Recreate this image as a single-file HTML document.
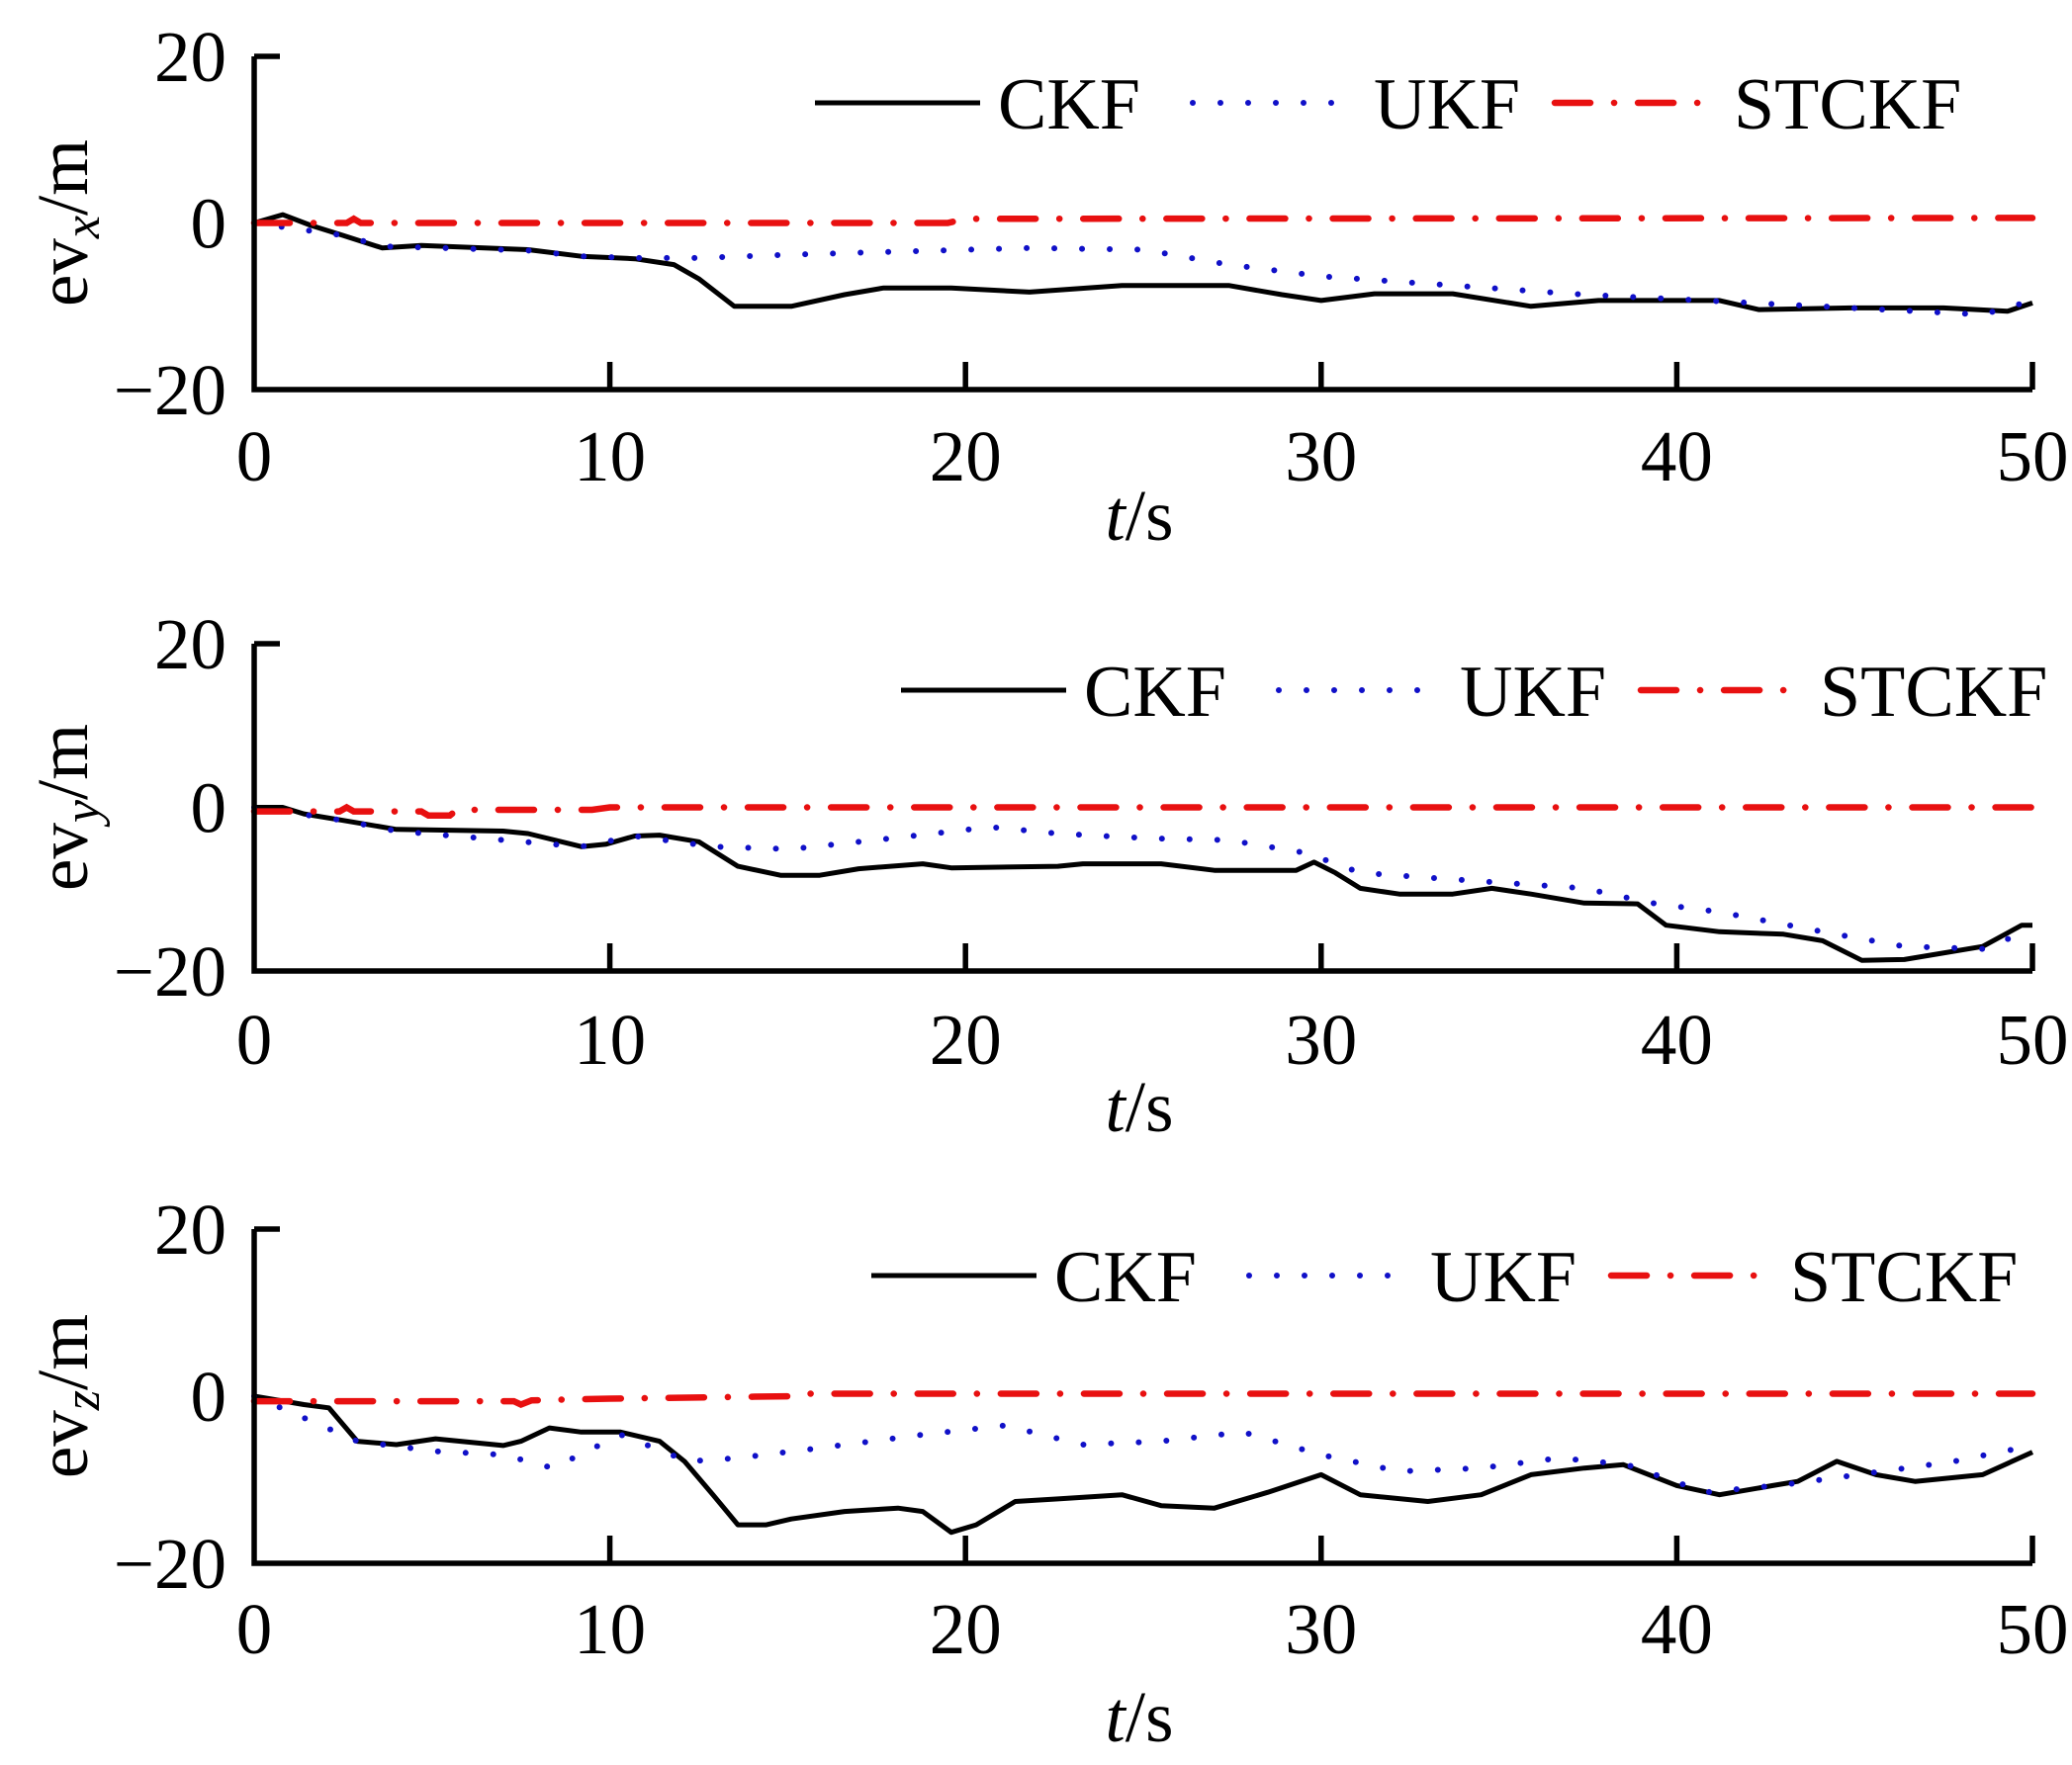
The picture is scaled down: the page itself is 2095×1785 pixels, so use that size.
<!DOCTYPE html>
<html><head><meta charset="utf-8"><style>
html,body{margin:0;padding:0;background:#fff;}
svg{display:block;}
text{font-family:"Liberation Serif",serif;fill:#000;}
</style></head><body>
<svg id="chart" width="2095" height="1785" viewBox="0 0 2095 1785" xmlns="http://www.w3.org/2000/svg"></svg>
<script>
// ---- data ----
const xTicks = [0,10,20,30,40,50];
const yTicks = [20,0,-20];
const seriesNames = ["CKF","UKF","STCKF"];
const panelLabels = ["x","y","z"];

const p1CkfT = [0,0.8,1.6,2.5,3.6,4.7,7.7,9.2,10.7,11.8,12.5,13.5,15.1,16.6,17.7,19.6,21.8,24.4,27.4,28.9,30.0,31.5,33.7,35.9,37.8,41.2,42.3,44.9,47.5,49.3,50];
const p1CkfV = [0,1,-0.3,-1.5,-3,-2.7,-3.2,-4,-4.3,-5,-6.7,-10,-10,-8.6,-7.8,-7.8,-8.3,-7.5,-7.5,-8.6,-9.3,-8.5,-8.5,-10,-9.3,-9.3,-10.4,-10.2,-10.2,-10.6,-9.6];
const p1UkfT = [0,2.5,3.6,7.7,9.2,10.7,12.5,15.1,21.8,25,27.4,30,33.7,37.4,41.2,44.9,48.6,50];
const p1UkfV = [0,-1.5,-2.8,-3.3,-4,-4.2,-4.2,-3.8,-3,-3.2,-5,-6.4,-7.5,-8.6,-9.4,-10.2,-11,-9.3];
const p1StT = [0,2.6,2.8,3.0,19.5,20,50];
const p1StV = [0,0,0.5,0,0,0.5,0.6];

const p2CkfT = [0,0.8,1.4,2.5,4.0,7.0,7.7,9.2,9.9,10.7,11.4,12.5,13.6,14.8,15.9,17.0,18.8,19.6,22.6,23.3,25.5,27.0,29.3,29.8,30.4,31.1,32.2,33.7,34.8,35.9,37.4,38.9,39.7,41.2,43.0,44.1,45.2,46.4,48.6,49.7,50];
const p2CkfV = [0,0,-0.8,-1.6,-2.7,-2.9,-3.2,-4.8,-4.5,-3.5,-3.4,-4.2,-7.2,-8.3,-8.3,-7.5,-6.9,-7.4,-7.2,-6.9,-6.9,-7.7,-7.7,-6.7,-8,-9.9,-10.6,-10.6,-9.9,-10.6,-11.7,-11.8,-14.4,-15.2,-15.5,-16.3,-18.7,-18.6,-17,-14.4,-14.4];
const p2UkfT = [0,2.5,4.0,9.2,10.7,12.9,15.1,18.1,20.7,22.6,25.2,27.4,29.6,31.1,33.7,37.4,39.3,41.2,44.1,46.4,48.6,50];
const p2UkfV = [0,-1.6,-2.9,-4.8,-3.5,-4.8,-5.1,-3.7,-2.4,-3.2,-3.8,-4,-5.6,-8,-8.8,-9.9,-11.7,-12.8,-15.2,-17,-17.3,-14.9];
const p2StT = [0,2.4,2.6,2.8,4.7,4.9,5.5,5.7,9.5,10,50];
const p2StV = [-0.5,-0.5,0,-0.5,-0.5,-1,-1,-0.3,-0.3,0,0];

const p3CkfT = [0,1.4,2.1,2.9,4.0,5.1,7.0,7.5,8.3,9.2,10.3,11.4,12.1,12.9,13.6,14.4,15.1,16.6,18.1,18.8,19.6,20.3,21.4,22.6,24.4,25.5,27.0,28.5,30.0,31.1,33.0,34.5,35.9,37.4,38.5,40.0,41.2,42.7,43.4,44.5,45.6,46.7,48.6,50];
const p3CkfV = [0,-1,-1.4,-5.4,-5.8,-5.1,-5.9,-5.4,-3.8,-4.3,-4.3,-5.4,-7.8,-11.8,-15.4,-15.4,-14.7,-13.8,-13.4,-13.8,-16.3,-15.4,-12.6,-12.3,-11.8,-13.1,-13.4,-11.5,-9.4,-11.8,-12.6,-11.8,-9.4,-8.6,-8.2,-10.7,-11.8,-10.7,-10.2,-7.8,-9.4,-10.2,-9.4,-6.7];
const p3UkfT = [0,2.9,5.1,7.0,8.4,10.3,12.2,13.6,15.9,18.8,21.1,23.3,25.5,27.8,30.0,32.2,34.5,36.7,38.6,40.8,43.0,45.6,47.8,50];
const p3UkfV = [0,-5.4,-6.6,-7,-8.6,-4.6,-7.8,-7.4,-6.2,-4.6,-3.5,-5.8,-5.4,-4.3,-7,-9,-8.6,-7.4,-8.2,-11.5,-10.6,-9.1,-7.8,-5.9];
const p3StT = [0,7.3,7.5,7.8,10,15.2,15.4,50];
const p3StV = [-0.6,-0.6,-1,-0.5,-0.3,0,0.3,0.3];

// ---- layout ----
const NS = "http://www.w3.org/2000/svg";
const svg = document.getElementById("chart");
const X0 = 257, X1 = 2055;
const panels = [
  {top:57, bot:394, legendShift:0, ckf:[p1CkfT,p1CkfV], ukf:[p1UkfT,p1UkfV], st:[p1StT,p1StV], tickLabY:486, titleY:546},
  {top:651, bot:982, legendShift:87, ckf:[p2CkfT,p2CkfV], ukf:[p2UkfT,p2UkfV], st:[p2StT,p2StV], tickLabY:1076, titleY:1144},
  {top:1243, bot:1581, legendShift:57, ckf:[p3CkfT,p3CkfV], ukf:[p3UkfT,p3UkfV], st:[p3StT,p3StV], tickLabY:1672, titleY:1761}
];
function mk(tag, attrs, parent){
  const e = document.createElementNS(NS, tag);
  for (const k in attrs) e.setAttribute(k, attrs[k]);
  (parent||svg).appendChild(e);
  return e;
}
const styles = {
  CKF:{stroke:"#000","stroke-width":5,fill:"none","stroke-linejoin":"round"},
  UKF:{stroke:"#1010c8","stroke-width":6,fill:"none","stroke-dasharray":"0 28","stroke-linecap":"round"},
  STCKF:{stroke:"#e81010","stroke-width":6.5,fill:"none","stroke-dasharray":"36 24 0.1 24","stroke-linecap":"round"}
};

panels.forEach((p, i) => {
  const g = mk("g", {});
  
  
  const xs = t => X0 + (t - 0) / 50 * (X1 - X0);
  const ys = v => p.bot - (v + 20) / 40 * (p.bot - p.top);

  [["CKF",p.ckf],["UKF",p.ukf],["STCKF",p.st]].forEach(([name, d]) => {
    const pts = d[0].map((t, k) => xs(t).toFixed(1) + "," + ys(d[1][k]).toFixed(1)).join(" ");
    const a = Object.assign({points: pts}, styles[name]);
    const pl = mk("polyline", a, g);
    
    
  });

  const ax = mk("path", {d:`M${X0} ${p.top} L${X0} ${p.bot} L${X1} ${p.bot}`, stroke:"#000","stroke-width":5.5,fill:"none"}, g);
  
  
  const tk = mk("path", {d:`M${X0} ${p.top} L${X0+26} ${p.top}`, stroke:"#000","stroke-width":5.5}, g);
  
  
  xTicks.forEach(t => {
    if (t > 0) {
      const l = mk("line", {x1:xs(t),x2:xs(t),y1:p.bot,y2:p.bot-28,stroke:"#000","stroke-width":5.5}, g);
      
      
    }
    const tx = mk("text", {x:xs(t), y:p.tickLabY, "font-size":73, "text-anchor":"middle"}, g);
    tx.textContent = String(t);
    
    
  });
  yTicks.forEach(v => {
    const tx = mk("text", {x:229, y:ys(v)+25, "font-size":73, "text-anchor":"end"}, g);
    tx.textContent = v < 0 ? "\u2212" + Math.abs(v) : String(v);
    
    
  });
  const xt = mk("text", {x:1152, y:p.titleY, "font-size":73, "text-anchor":"middle"}, g);
  xt.innerHTML = '<tspan font-style="italic">t</tspan>/s';
  
  
  const yc = (p.top + p.bot) / 2;
  const yt = mk("text", {x:0, y:0, "font-size":73, "text-anchor":"middle", transform:`translate(88 ${yc}) rotate(-90)`}, g);
  yt.innerHTML = 'ev<tspan font-style="italic" font-size="52" dy="12">' + panelLabels[i] + '</tspan><tspan dy="-12">/m</tspan>';
  
  

  const ly = p.top + 47, s = p.legendShift;
  const lg = mk("g", {}, g);
  
  
  const ent = [[824,991,1009],[1206,1369,1389],[1572,1733,1753]];
  seriesNames.forEach((n, k) => {
    const ln = mk("line", Object.assign({x1:ent[k][0]+s, x2:ent[k][1]+s, y1:ly, y2:ly}, styles[n]), lg);
    
    
    const tx = mk("text", {x:ent[k][2]+s, y:ly+26, "font-size":74}, lg);
    tx.textContent = n;
    
    
  });
});
</script>
</body></html>
